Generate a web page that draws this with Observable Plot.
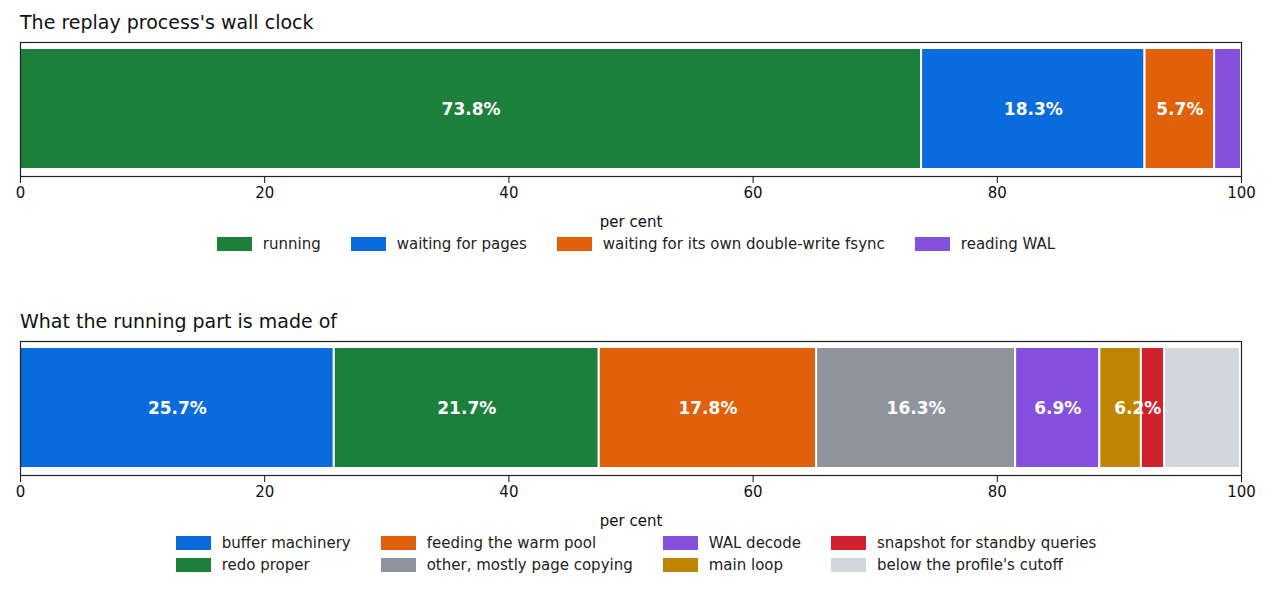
<!DOCTYPE html>
<html><head><meta charset="utf-8">
<script src="https://cdn.jsdelivr.net/npm/d3@7"></script>
<script src="https://cdn.jsdelivr.net/npm/@observablehq/plot@0.6"></script>
<style>
body{margin:0;background:#fff;font-family:"DejaVu Sans",sans-serif;width:1272px;height:597px;position:relative;overflow:hidden}
.t{position:absolute;left:20px;font-size:19px;color:#111}
.p{position:absolute;left:0;top:0}
.lg{position:absolute;left:0;width:1272px;font-size:15px;color:#222;display:grid;justify-content:center;column-gap:30px;row-gap:6px}
.it{display:flex;align-items:center;white-space:nowrap}
.sw{display:inline-block;width:35px;height:14px;margin-right:11px}
</style></head><body>
<div class="t" style="top:11px">The replay process's wall clock</div>
<div id="c1" class="p" style="top:41px"></div>
<div id="l1" class="lg" style="top:235px;grid-template-columns:repeat(4,auto)"></div>
<div class="t" style="top:310px">What the running part is made of</div>
<div id="c2" class="p" style="top:340px"></div>
<div id="l2" class="lg" style="top:534px;grid-template-columns:repeat(4,auto);grid-auto-flow:column;grid-template-rows:auto auto;row-gap:4px"></div>
<script>
const topCats = ["running","waiting for pages","waiting for its own double-write fsync","reading WAL"];
const topVals = [73.8,18.3,5.7,2.2];
const topColors = ["#1c7f3a","#0a6bdc","#e0600b","#8650de"];
const botCats = ["buffer machinery","redo proper","feeding the warm pool","other, mostly page copying","WAL decode","main loop","snapshot for standby queries","below the profile's cutoff"];
const botVals = [25.7,21.7,17.8,16.3,6.9,3.4,1.9,6.2];
const botColors = ["#0a6bdc","#1c7f3a","#e0600b","#8e949e","#8650de","#bf8500","#d0212f","#d0d7de"];
const xTicks = [0,20,40,60,80,100];

function chart(cats, vals, colors){
  const data = cats.map((c,i)=>({c, v: vals[i]}));
  return Plot.plot({
    width:1272, height:190, marginLeft:20, marginRight:31, marginTop:1, marginBottom:55,
    style:{fontFamily:"DejaVu Sans, sans-serif", fontSize:"15px", color:"#111"},
    x:{domain:[0,100], ticks:xTicks, tickSize:7, tickPadding:4, label:"per cent", labelAnchor:"center", labelArrow:"none", labelOffset:50},
    color:{domain:cats, range:colors},
    marks:[
      Plot.barX(data, Plot.stackX({x:"v", fill:"c", stroke:"white", strokeWidth:2, insetTop:6, insetBottom:7})),
      Plot.textX(data.filter(d=>d.v>=5), Plot.stackX({x:"v", text:d=>d.v.toFixed(1)+"%", fill:"white", fontWeight:"bold", fontSize:17})),
      Plot.frame({stroke:"#222", strokeWidth:1.2})
    ]
  });
}
function legend(el, cats, colors){
  const e = document.getElementById(el);
  cats.forEach((c,i)=>{
    const d=document.createElement("div"); d.className="it";
    d.innerHTML=`<span class="sw" style="background:${colors[i]}"></span>`;
    d.appendChild(document.createTextNode(c)); e.appendChild(d);
  });
}
document.getElementById("c1").appendChild(chart(topCats,topVals,topColors));
document.getElementById("c2").appendChild(chart(botCats,botVals,botColors));
legend("l1",topCats,topColors);
legend("l2",botCats,botColors);
</script></body></html>
